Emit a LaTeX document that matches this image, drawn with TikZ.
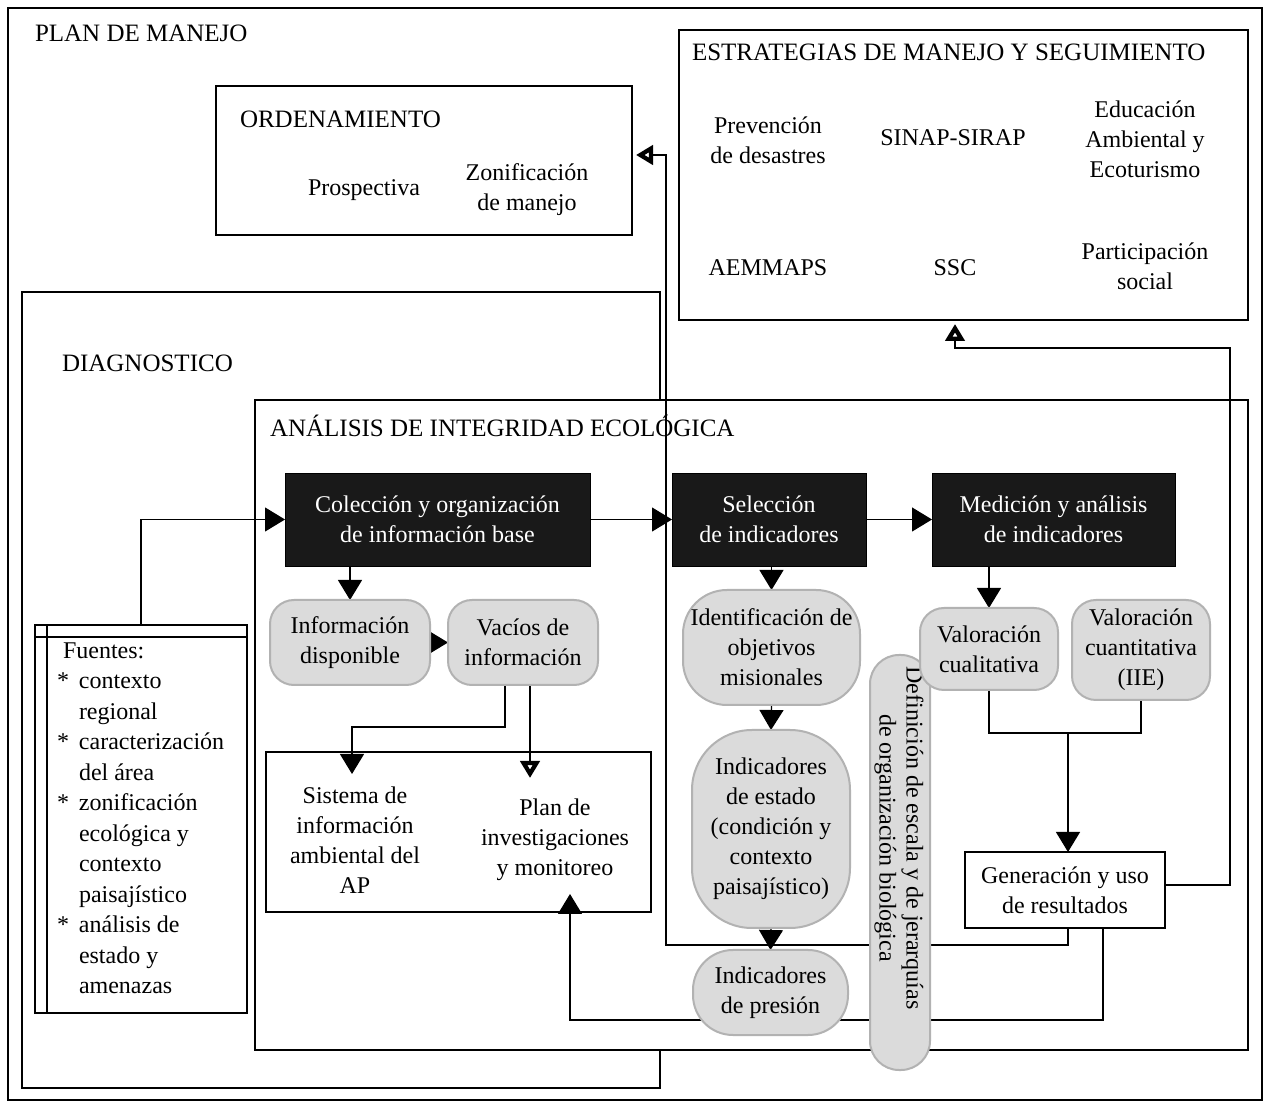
\documentclass[tikz,border=0pt]{standalone}
\usepackage{fontspec}
\setmainfont{Liberation Serif}
\usetikzlibrary{arrows.meta}
\pgfdeclarelayer{bg}
\pgfdeclarelayer{conn}
\pgfsetlayers{bg,conn,main}
\newcommand\fs{\fontsize{12}{15}\selectfont}
\newcommand\ft{\fontsize{12.5}{15}\selectfont}
\begin{document}
\begin{tikzpicture}[x=0.5pt,y=-0.5pt,
  every node/.style={font=\fs, inner sep=0pt, outer sep=0pt},
  frame/.style={draw, line width=0.8pt, fill=white},
  title/.style={font=\ft, anchor=base west},
  blk/.style={draw, fill=black!90, text=white, align=center},
  blob/.style={draw=gray!60, fill=gray!28, line width=1pt, align=center},
  txt/.style={align=center},
  conn/.style={line width=0.6pt},
  arr/.style={conn, -{Triangle[length=10pt,width=12pt]}},
  oarr/.style={conn, -{Triangle[open,length=8.5pt,width=9.5pt,line width=2.6pt]}, shorten >=2pt},
  oarrin/.style={conn, -{Triangle[open,length=8.5pt,width=9.5pt,line width=2.6pt]}}
]
\useasboundingbox (0,0) rectangle (1265,1106);

\begin{pgfonlayer}{bg}
\node[frame, minimum width=627pt, minimum height=546pt] (plan) at (635,554) {};
\node[frame, minimum width=208pt, minimum height=74.5pt] (ord) at (424,160.5) {};
\node[frame, minimum width=284.5pt, minimum height=145pt] (est) at (963.5,175) {};
\node[frame, minimum width=319pt, minimum height=398pt] (diag) at (341,690) {};
\node[frame, minimum width=496.5pt, minimum height=325pt] (ana) at (751.5,725) {};
\node[frame, minimum width=192.5pt, minimum height=80pt] (sp) at (458.5,832) {};
\node[frame, minimum width=106pt, minimum height=194pt] (fu) at (141,819) {};
\draw[line width=0.8pt] ([yshift=-6pt]fu.north west) -- ([yshift=-6pt]fu.north east);
\draw[line width=0.8pt] ([xshift=6pt]fu.north west) -- ([xshift=6pt]fu.south west);
\end{pgfonlayer}

% titles
\node[title] (tplan) at (35,42) {PLAN DE MANEJO};
\node[title] (tord) at (240,128) {ORDENAMIENTO};
\node[title] (tdiag) at (62,372) {DIAGNOSTICO};
\node[title] (tana) at (270,437) {ANÁLISIS DE INTEGRIDAD ECOLÓGICA};
\node[title] (test) at (692,61) {ESTRATEGIAS DE MANEJO Y SEGUIMIENTO};

% ordenamiento content
\node[txt] (prosp) at (364,190) {Prospectiva};
\node[txt] (zonif) at (527,190) {Zonificación\\de manejo};

% estrategias content
\node[txt] (prev) at (768,140) {Prevención\\de desastres};
\node[txt] (sinap) at (953,138) {SINAP-SIRAP};
\node[txt] (educ) at (1145,139) {Educación\\Ambiental y\\Ecoturismo};
\node[txt] (aem) at (768,268) {AEMMAPS};
\node[txt] (ssc) at (955,268) {SSC};
\node[txt] (part) at (1145,266) {Participación\\social};

% fuentes
\node[anchor=north west] (futxt) at (57,637) {\fontsize{12}{15.25}\selectfont
\begin{tabular}{@{}l@{\hspace{5pt}}l@{}}
\multicolumn{2}{@{\hspace{3pt}}l}{Fuentes:}\\
{*} & contexto\\
  & regional\\
{*} & caracterización\\
  & del área\\
{*} & zonificación\\
  & ecológica y\\
  & contexto\\
  & paisajístico\\
{*} & análisis de\\
  & estado y\\
  & amenazas
\end{tabular}};

% black boxes
\node[blk, minimum width=152.5pt, minimum height=46.5pt] (col) at (437.5,519.5) {Colección y organización\\de información base};
\node[blk, minimum width=97pt, minimum height=46.5pt] (sel) at (769,519.5) {Selección\\de indicadores};
\node[blk, minimum width=121.5pt, minimum height=46.5pt] (med) at (1053.5,519.5) {Medición y análisis\\de indicadores};

% blobs
\node[blob, rounded corners=12pt, minimum width=80pt, minimum height=42.5pt] (info) at (350,642.5) {Información\\disponible};
\node[blob, rounded corners=12pt, minimum width=75pt, minimum height=42.5pt] (vac) at (523,642.5) {Vacíos de\\información};
\node[blob, rounded corners=22pt, minimum width=88.5pt, minimum height=57.5pt] (ident) at (771.5,647.5) {Identificación de\\objetivos\\misionales};
\node[blob, rounded corners=30pt, minimum width=79pt, minimum height=99pt] (estado) at (771,829) {Indicadores\\de estado\\(condición y\\contexto\\paisajístico)};
\node[blob, rounded corners=20pt, minimum width=77.5pt, minimum height=42.5pt] (pres) at (770.5,992.5) {Indicadores\\de presión};
\node[blob, rounded corners=14.5pt, minimum width=30pt, minimum height=207.5pt] (defi) at (900,862.5) {};
\node[rotate=-90, align=center, font=\fontsize{12}{13.5}\selectfont] (defit) at (899,838) {Definición de escala y de jerarquías\\de organización biológica};
\node[blob, rounded corners=12pt, minimum width=69pt, minimum height=41pt] (vcual) at (989,649) {Valoración\\cualitativa};
\node[blob, rounded corners=12pt, minimum width=69pt, minimum height=50pt] (vcuan) at (1141,650) {Valoración\\cuantitativa\\(IIE)};

% sistema / plan texts
\node[txt] (sis) at (355,840) {Sistema de\\información\\ambiental del\\AP};
\node[txt] (pinv) at (555,840) {Plan de\\investigaciones\\y monitoreo};

% generacion
\node[draw, fill=white, line width=0.8pt, minimum width=100pt, minimum height=38pt, align=center] (gen) at (1065,890) {Generación y uso\\de resultados};

% coordinates
\coordinate (c1) at (1103,1020);
\coordinate (c2) at (666,945);
\coordinate (c3) at (1230,348);
\coordinate (c4) at (505,727);
\coordinate (jn) at (1068,733);

\begin{pgfonlayer}{conn}
\draw[arr] (fu.north) |- (col.west);
\draw[arr] (col.east) -- (sel.west);
\draw[arr] (sel.east) -- (med.west);
\draw[arr] (info.north |- col.south) -- (info.north);
\draw[arr] (info.east) -- (vac.west);
\draw[arr] ([xshift=-9pt]vac.south) |- (c4) -| ([xshift=-53.25pt,yshift=-11pt]sp.north);
\draw[oarrin] ([xshift=3.5pt]vac.south) -- ([xshift=35.75pt,yshift=-13pt]sp.north);
\draw[arr] (ident.north |- sel.south) -- (ident.north);
\draw[arr] (ident.south) -- (estado.north);
\draw[arr] (estado.south) -- (pres.north);
\draw[arr] (vcual.north |- med.south) -- (vcual.north);
\draw[conn] (vcual.south) |- (jn);
\draw[conn] (vcuan.south) |- (jn);
\draw[arr] (jn) -- (jn |- gen.north);
\draw[arr] ([xshift=19pt]gen.south) -- (c1) -| ([xshift=55.75pt,yshift=9pt]sp.south);
\draw[oarr] ([xshift=1.5pt]gen.south) |- (c2) |- ([yshift=2.75pt]ord.east);
\draw[oarr] ([yshift=2.5pt]gen.east) -| (c3) -| ([xshift=-4.25pt]est.south);
\end{pgfonlayer}
\end{tikzpicture}
\end{document}
